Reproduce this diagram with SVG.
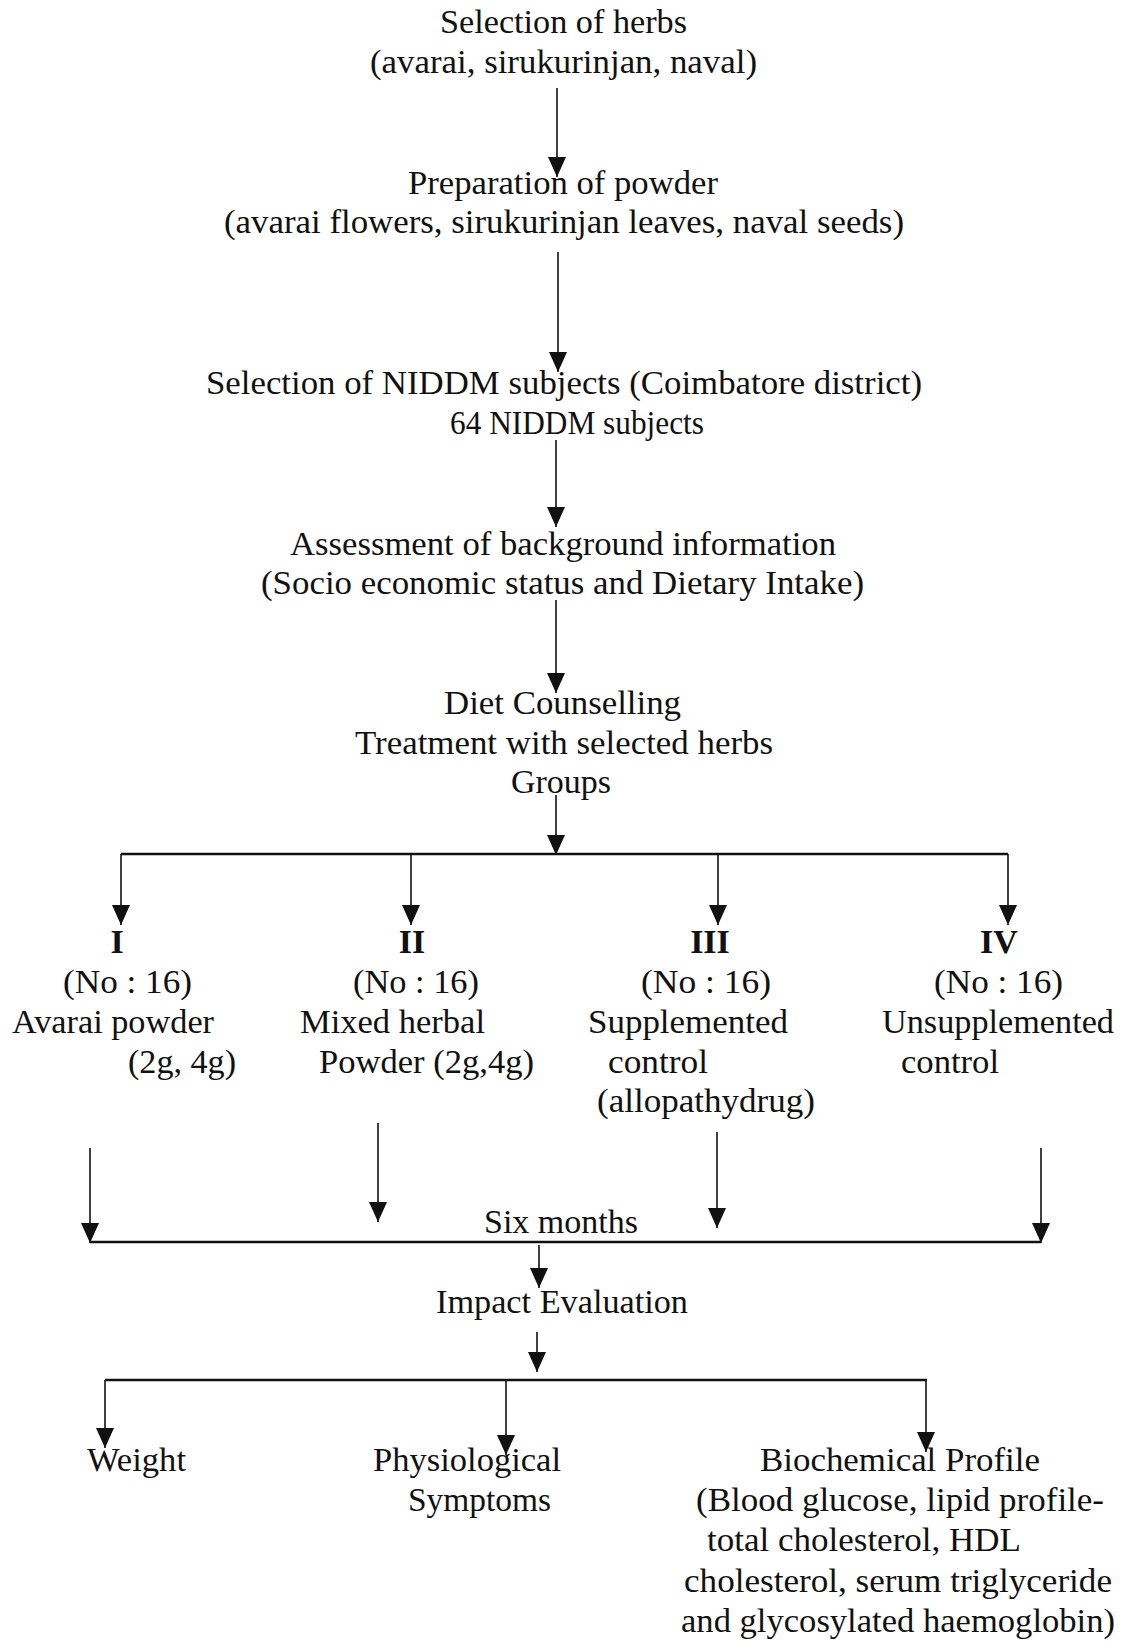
<svg xmlns="http://www.w3.org/2000/svg" width="1135" height="1642" viewBox="0 0 1135 1642">
<style>
text{font-family:"Liberation Serif","Times New Roman",serif;font-size:34px;fill:#111}
.c{text-anchor:middle}
.b{font-weight:bold}
.v{stroke:#111;stroke-width:1.6;fill:none}
.h{stroke:#111;stroke-width:2.6;fill:none}
</style>
<defs>
<marker id="ah" viewBox="0 0 20 18" refX="20" refY="9" markerWidth="20" markerHeight="18" markerUnits="userSpaceOnUse" orient="auto">
<path d="M0,0 L20,9 L0,18 z" fill="#111"/>
</marker>
</defs>
<rect width="1135" height="1642" fill="#fff"/>
<g id="connectors">
<line class="v" x1="557" y1="88" x2="557" y2="177" marker-end="url(#ah)"/>
<line class="v" x1="558" y1="252" x2="558" y2="372" marker-end="url(#ah)"/>
<line class="v" x1="556" y1="440" x2="556" y2="527" marker-end="url(#ah)"/>
<line class="v" x1="556" y1="600" x2="556" y2="693" marker-end="url(#ah)"/>
<line class="v" x1="556" y1="795" x2="556" y2="855" marker-end="url(#ah)"/>
<line class="h" x1="121" y1="854" x2="1008" y2="854"/>
<line class="v" x1="121" y1="854" x2="121" y2="925" marker-end="url(#ah)"/>
<line class="v" x1="411" y1="854" x2="411" y2="925" marker-end="url(#ah)"/>
<line class="v" x1="718" y1="854" x2="718" y2="925" marker-end="url(#ah)"/>
<line class="v" x1="1008" y1="854" x2="1008" y2="925" marker-end="url(#ah)"/>
<line class="v" x1="90" y1="1148" x2="90" y2="1243" marker-end="url(#ah)"/>
<line class="v" x1="378" y1="1123" x2="378" y2="1222" marker-end="url(#ah)"/>
<line class="v" x1="717" y1="1132" x2="717" y2="1228" marker-end="url(#ah)"/>
<line class="v" x1="1041" y1="1148" x2="1041" y2="1243" marker-end="url(#ah)"/>
<line class="h" x1="90" y1="1242" x2="1041" y2="1242"/>
<line class="v" x1="539" y1="1245" x2="539" y2="1288" marker-end="url(#ah)"/>
<line class="v" x1="537" y1="1332" x2="537" y2="1372" marker-end="url(#ah)"/>
<line class="h" x1="105" y1="1380" x2="927" y2="1380"/>
<line class="v" x1="105" y1="1380" x2="105" y2="1448" marker-end="url(#ah)"/>
<line class="v" x1="506" y1="1380" x2="506" y2="1455" marker-end="url(#ah)"/>
<line class="v" x1="926" y1="1380" x2="926" y2="1452" marker-end="url(#ah)"/>
</g>
<g id="n-herbs">
<text x="440" y="33" textLength="247" lengthAdjust="spacingAndGlyphs">Selection of herbs</text>
<text x="370" y="73" textLength="387" lengthAdjust="spacingAndGlyphs">(avarai, sirukurinjan, naval)</text>
</g>
<g id="n-powder">
<text x="408" y="194" textLength="310" lengthAdjust="spacingAndGlyphs">Preparation of powder</text>
<text x="224" y="233" textLength="680" lengthAdjust="spacingAndGlyphs">(avarai flowers, sirukurinjan leaves, naval seeds)</text>
</g>
<g id="n-subjects">
<text x="206" y="394" textLength="716" lengthAdjust="spacingAndGlyphs">Selection of NIDDM subjects (Coimbatore district)</text>
<text x="450" y="434" textLength="254" lengthAdjust="spacingAndGlyphs">64 NIDDM subjects</text>
</g>
<g id="n-assessment">
<text x="290" y="555" textLength="546" lengthAdjust="spacingAndGlyphs">Assessment of background information</text>
<text x="261" y="594" textLength="603" lengthAdjust="spacingAndGlyphs">(Socio economic status and Dietary Intake)</text>
</g>
<g id="n-diet">
<text x="444" y="714" textLength="237" lengthAdjust="spacingAndGlyphs">Diet Counselling</text>
<text x="355" y="754" textLength="418" lengthAdjust="spacingAndGlyphs">Treatment with selected herbs</text>
<text x="511" y="793" textLength="100" lengthAdjust="spacingAndGlyphs">Groups</text>
</g>
<g id="n-group1">
<text class="c b" x="117" y="953">I</text>
<text x="63" y="993" textLength="129" lengthAdjust="spacingAndGlyphs">(No : 16)</text>
<text x="12" y="1033" textLength="202" lengthAdjust="spacingAndGlyphs">Avarai powder</text>
<text x="128" y="1073" textLength="108" lengthAdjust="spacingAndGlyphs">(2g, 4g)</text>
</g>
<g id="n-group2">
<text class="c b" x="412" y="953">II</text>
<text x="353" y="993" textLength="126" lengthAdjust="spacingAndGlyphs">(No : 16)</text>
<text x="300" y="1033" textLength="185" lengthAdjust="spacingAndGlyphs">Mixed herbal</text>
<text x="319" y="1073" textLength="215" lengthAdjust="spacingAndGlyphs">Powder (2g,4g)</text>
</g>
<g id="n-group3">
<text class="c b" x="710" y="953">III</text>
<text x="641" y="993" textLength="130" lengthAdjust="spacingAndGlyphs">(No : 16)</text>
<text x="588" y="1033" textLength="200" lengthAdjust="spacingAndGlyphs">Supplemented</text>
<text x="608" y="1073" textLength="100" lengthAdjust="spacingAndGlyphs">control</text>
<text x="597" y="1112" textLength="218" lengthAdjust="spacingAndGlyphs">(allopathydrug)</text>
</g>
<g id="n-group4">
<text class="c b" x="999" y="953">IV</text>
<text x="934" y="993" textLength="129" lengthAdjust="spacingAndGlyphs">(No : 16)</text>
<text x="882" y="1033" textLength="232" lengthAdjust="spacingAndGlyphs">Unsupplemented</text>
<text x="901" y="1073" textLength="98" lengthAdjust="spacingAndGlyphs">control</text>
</g>
<g id="n-six">
<text x="484" y="1233" textLength="154" lengthAdjust="spacingAndGlyphs">Six months</text>
</g>
<g id="n-impact">
<text x="436" y="1313" textLength="252" lengthAdjust="spacingAndGlyphs">Impact Evaluation</text>
</g>
<g id="n-weight">
<text x="87" y="1471" textLength="99" lengthAdjust="spacingAndGlyphs">Weight</text>
</g>
<g id="n-physio">
<text x="373" y="1471" textLength="188" lengthAdjust="spacingAndGlyphs">Physiological</text>
<text x="408" y="1511" textLength="143" lengthAdjust="spacingAndGlyphs">Symptoms</text>
</g>
<g id="n-biochem">
<text x="760" y="1471" textLength="280" lengthAdjust="spacingAndGlyphs">Biochemical Profile</text>
<text x="696" y="1511" textLength="408" lengthAdjust="spacingAndGlyphs">(Blood glucose, lipid profile-</text>
<text x="707" y="1551" textLength="314" lengthAdjust="spacingAndGlyphs">total cholesterol, HDL</text>
<text x="684" y="1592" textLength="428" lengthAdjust="spacingAndGlyphs">cholesterol, serum triglyceride</text>
<text x="681" y="1632" textLength="434" lengthAdjust="spacingAndGlyphs">and glycosylated haemoglobin)</text>
</g>
</svg>
